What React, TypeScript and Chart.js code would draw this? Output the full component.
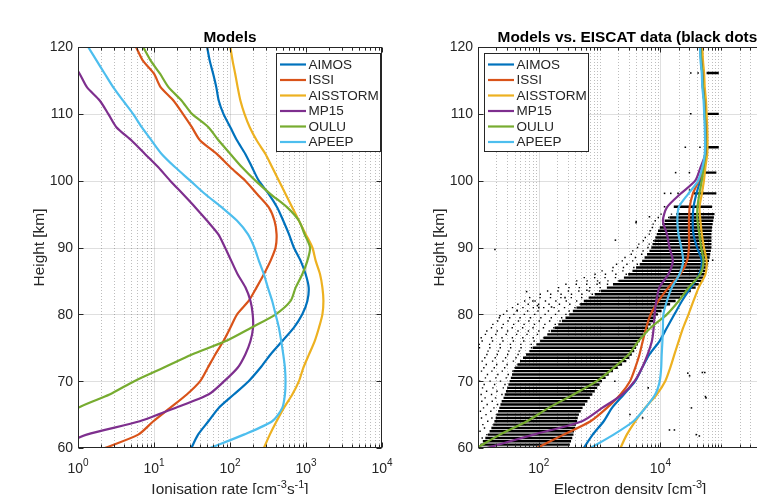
import React, { useEffect, useRef } from 'react';
import { Chart, registerables } from 'chart.js';

Chart.register(...registerables);

const FONT = '"Liberation Sans", Arial, Helvetica, sans-serif';
const TXT = '#262626';

// ---------------- data ----------------
const heights = [60, 62, 64, 66, 68, 70, 72, 74, 76, 78, 80, 82, 84, 86, 88, 90, 92, 94, 96, 98, 100, 102, 104, 106, 108, 110, 112, 114, 116, 118, 120];

const modelNames = ['AIMOS', 'ISSI', 'AISSTORM', 'MP15', 'OULU', 'APEEP'];
const modelColors = ['#0072BD', '#D95319', '#EDB120', '#7E2F8E', '#77AC30', '#4DBEEE'];

// Ionisation rate [cm^-3 s^-1]
const aimosIon = [31, 38, 52, 71, 112, 176, 251, 341, 487, 693, 893, 1042, 1085, 990, 850, 692, 596, 502, 418, 324, 239, 195, 159, 124, 101, 82, 71, 66, 60, 54, 50];
const issiIon = [2.25, 6.2, 9.8, 16.3, 27, 40.5, 51, 64, 82, 101, 124, 176, 223, 279, 341, 398, 410, 385, 324, 227, 159, 101, 67, 40.5, 31.5, 24, 18, 12.2, 10, 7.1, 5.8];
const aisstormIon = [279, 334, 410, 512, 660, 808, 922, 1096, 1302, 1480, 1644, 1695, 1644, 1530, 1342, 1213, 990, 808, 660, 538, 440, 359, 293, 225, 182, 155, 137, 126, 117, 108, 101];
const mp15Ion = [0.5, 1.3, 6.5, 19, 52, 84, 126, 159, 186, 201, 199, 186, 160, 126, 104, 86, 70, 50, 35, 24, 16.3, 11.4, 7.6, 5.07, 3.2, 2.5, 1.93, 1.31, 1.05, 0.8, 0.6];
const ouluIon = [0.3, 0.45, 0.65, 1.0, 2.6, 5.5, 13.3, 31.5, 88, 190, 400, 627, 730, 894, 1042, 1130, 956, 808, 566, 341, 216, 144, 101, 71, 52, 31.5, 23, 15.5, 12, 9, 7.2];
const apeepIon = [55, 152, 359, 487, 528, 538, 528, 502, 472, 440, 398, 359, 315, 279, 240, 209, 172, 124, 78, 47, 30, 19, 12.6, 9.3, 6.9, 5.3, 3.9, 2.9, 2.25, 1.75, 1.36];

// Electron density [cm^-3]
const aimosNe = [550, 770, 1170, 1600, 2500, 3850, 5000, 6600, 9700, 12800, 17000, 22600, 31600, 43700, 48000, 40000, 35000, 34000, 35000, 39000, 45000, 51300, 55000, 55600, 55000, 53700, 52500, 50100, 49000, 46800, 45700];
const issiNe = [93, 257, 710, 1320, 2200, 3160, 3850, 4530, 5130, 5840, 6930, 9300, 13500, 21300, 27400, 29500, 29500, 29500, 30300, 34000, 42600, 51300, 55000, 55600, 55000, 53700, 52500, 50100, 49000, 46800, 45700];
const aisstormNe = [2200, 2800, 3850, 5600, 8700, 12000, 14500, 17000, 20000, 23700, 29000, 35000, 42600, 55000, 57500, 52000, 48000, 45500, 44000, 48000, 52000, 54900, 58900, 59500, 58900, 57500, 56200, 53600, 52400, 50100, 48900];
const mp15Ne = [14, 82, 515, 1100, 2350, 3760, 5000, 6170, 7250, 7760, 8020, 8570, 9600, 13500, 16000, 14100, 12800, 11000, 12800, 21200, 37400, 45700, 55000, 55600, 55000, 53700, 52500, 50100, 49000, 46800, 45700];
const ouluNe = [9.5, 23, 64, 145, 372, 900, 1700, 3000, 4370, 6930, 12800, 20000, 29200, 45200, 51300, 46800, 43700, 40700, 40700, 43700, 47900, 51300, 55000, 55600, 55000, 53700, 52500, 50100, 49000, 46800, 45700];
const apeepNe = [710, 1700, 3600, 5650, 8200, 9750, 10300, 10500, 10800, 11000, 11200, 12800, 15400, 20600, 23700, 22000, 19800, 19000, 20000, 28500, 41700, 49000, 53700, 54300, 53700, 52500, 51300, 48900, 47900, 45700, 44700];

// EISCAT range gates: sparse-fringe start, dense start, dense end
const eiscatHeights = [
  60, 60.5, 61, 61.5, 62, 62.5, 63, 63.5, 64, 64.5, 65, 65.5, 66, 66.5, 67, 67.5, 68, 68.5, 69, 69.5,
  70, 70.5, 71, 71.5, 72, 72.5, 73, 73.5, 74, 74.5, 75, 75.5, 76, 76.5, 77, 77.5, 78, 78.5, 79, 79.5,
  80, 80.5, 81, 81.5, 82, 82.5, 83, 83.5, 84, 84.5, 85, 85.5, 86, 86.5, 87, 87.5, 88, 88.5, 89, 89.5,
  90, 90.5, 91, 91.5, 92, 92.5, 93, 93.5, 94, 94.5, 95, 96.1, 98.1, 101.2, 105, 110, 116.1,
];
const eiscatFringeLow = [
  8, 7.3, 8.8, 7.7, 9.2, 7.1, 8.4, 7.9, 9.5, 7.5, 8.9, 7.2, 8.1, 9.3, 7.6, 8.6, 7.4, 9.1, 7.8, 8.3, 7.0, 8.7, 9.4, 7.5, 8.2, 9.0, 7.7, 8.5, 9.2,
  9.6, 10.3, 10.2, 11.4, 11.0, 12.9, 13.6, 16.2, 17.1, 20.5,
  21.8, 25.6, 29, 36, 44, 57, 69, 103, 136, 206,
  272, 410, 545, 820, 1070, 1620, 1850, 2300, 2550, 3230,
  3420, 4100, 4300, 5100, 5500, 6400, 6600, 7200, 7400, 8000,
  9000, 10000, 16600, 35500, 52500, 55000, 58900, 57500,
];
const eiscatLow = [
  10, 11, 12, 13.2, 14.5, 15.5, 16.6, 17.8, 18.6,
  19.5, 20.4, 21.4, 22.4, 23.4, 24.5, 26.3, 27.5, 28.8, 30.2,
  31.6, 33.1, 34.7, 36.3, 38, 40.7, 44.7, 49, 55, 61.7,
  70.8, 79.4, 91.2, 105, 120, 138, 158, 182, 209, 240,
  275, 316, 363, 417, 479, 550, 661, 832, 1047, 1318,
  1660, 2089, 2512, 2951, 3467, 3981, 4571, 5012, 5495, 6026,
  6607, 7079, 7413, 7943, 8318, 8710, 9120, 9772, 10720, 11750,
  14130, 18200, 16600, 35500, 52500, 55000, 58900, 57500,
];
const eiscatHigh = [
  316, 324, 339, 355, 372, 380, 398, 407, 427,
  437, 457, 490, 525, 575, 631, 692, 759, 832, 912,
  1000, 1096, 1259, 1413, 1660, 1995, 2344, 2754, 3090, 3388,
  3715, 3981, 4266, 4571, 4898, 5248, 5754, 6310, 6918, 7586,
  8318, 9120, 10470, 12020, 14450, 17780, 21380, 26300, 31620, 38020,
  42660, 47860, 51290, 54950, 56890, 58880, 60950, 63100, 64570, 66070,
  67610, 69180, 69180, 69180, 69180, 69180, 69980, 70790, 72440, 74130,
  75860, 77620, 70800, 83200, 83200, 91200, 91200, 91200,
];
const outlierNe = [19, 1820, 3980, 6600, 63, 80, 95, 100, 44, 23, 162, 270, 617, 1000, 53700, 56200, 32400, 14100, 43700, 28200, 6300, 5100, 3160, 1780, 30200, 49000, 55000, 38900, 17000, 72400, 50100, 31600, 41700, 31600, 25700, 44700, 17800, 30000, 11700, 14800, 19500, 11700, 30200, 4000];
const outlierHeight = [89.7, 91.1, 93.7, 94.6, 83.4, 82, 81.3, 81, 80.6, 79.8, 81.1, 82.5, 83.6, 84.7, 71.3, 67.5, 66, 62.7, 61.8, 71.2, 69, 64.5, 65, 70, 70.8, 71.3, 67.7, 62, 62.7, 88.1, 89.2, 116.1, 116.1, 110, 105, 105, 101.2, 101.2, 98.1, 98.1, 98.1, 96.1, 98.6, 93.9];

// ticks
const heightTicks = [60, 70, 80, 90, 100, 110, 120];
const ionTicks = [1, 10, 100, 1000, 10000];
const ionTickExp = ['0', '1', '2', '3', '4'];
const neTicks = [100, 10000, 1000000];
const neTickExp = ['2', '4', '6'];

// ---------------- drawing helpers ----------------
type Part = { t: string; sup?: boolean };

function drawRich(ctx: CanvasRenderingContext2D, parts: Part[], x: number, y: number, size: number, supSize: number, rise: number, align: 'left' | 'center' | 'right', weight = '') {
  const widths = parts.map((p) => {
    ctx.font = `${weight}${p.sup ? supSize : size}px ${FONT}`;
    return ctx.measureText(p.t).width;
  });
  const total = widths.reduce((a, b) => a + b, 0);
  let cx = align === 'left' ? x : align === 'center' ? x - total / 2 : x - total;
  ctx.textAlign = 'left';
  ctx.textBaseline = 'alphabetic';
  parts.forEach((p, i) => {
    ctx.font = `${weight}${p.sup ? supSize : size}px ${FONT}`;
    ctx.fillText(p.t, cx, p.sup ? y - rise : y);
    cx += widths[i];
  });
}

function minorValues(e0: number, e1: number, skip: number[]): number[] {
  const out: number[] = [];
  for (let e = e0; e < e1; e++) {
    for (let m = 1; m <= 9; m++) {
      const v = m * Math.pow(10, e);
      if (!skip.some((s) => Math.abs(s - v) / v < 1e-6)) out.push(v);
    }
  }
  return out;
}

type PanelCfg = {
  title: string;
  xTitle: Part[];
  xMajor: number[];
  xExp: string[];
  xMinor: number[];
  legend: 'right' | 'left';
};

function makePlugin(cfg: PanelCfg) {
  return {
    id: 'matlabAxes',
    beforeDatasetsDraw(chart: any) {
      const { ctx, chartArea: a, scales } = chart;
      const xs = scales.x, ys = scales.y;
      ctx.save();
      ctx.beginPath();
      ctx.rect(a.left, a.top, a.right - a.left, a.bottom - a.top);
      ctx.clip();
      ctx.lineWidth = 1;
      ctx.strokeStyle = 'rgba(38,38,38,0.3)';
      ctx.setLineDash([1, 2]);
      for (const v of cfg.xMinor) {
        const px = Math.round(xs.getPixelForValue(v)) + 0.5;
        ctx.beginPath(); ctx.moveTo(px, a.top); ctx.lineTo(px, a.bottom); ctx.stroke();
      }
      ctx.setLineDash([]);
      ctx.strokeStyle = 'rgba(38,38,38,0.15)';
      for (const v of cfg.xMajor) {
        const px = Math.round(xs.getPixelForValue(v)) + 0.5;
        ctx.beginPath(); ctx.moveTo(px, a.top); ctx.lineTo(px, a.bottom); ctx.stroke();
      }
      for (const v of heightTicks) {
        const py = Math.round(ys.getPixelForValue(v)) + 0.5;
        ctx.beginPath(); ctx.moveTo(a.left, py); ctx.lineTo(a.right, py); ctx.stroke();
      }
      ctx.restore();
    },
    afterDatasetsDraw(chart: any) {
      const { ctx, chartArea: a, scales } = chart;
      const xs = scales.x, ys = scales.y;
      ctx.save();
      ctx.strokeStyle = TXT;
      ctx.lineWidth = 1;
      const L = Math.round(a.left) + 0.5, R = Math.round(a.right) - 0.5;
      const T = Math.round(a.top) + 0.5, B = Math.round(a.bottom) - 0.5;
      ctx.strokeRect(L, T, R - L, B - T);
      const tick = (x1: number, y1: number, x2: number, y2: number) => {
        ctx.beginPath(); ctx.moveTo(x1, y1); ctx.lineTo(x2, y2); ctx.stroke();
      };
      for (const v of cfg.xMajor) {
        const px = Math.round(xs.getPixelForValue(v)) + 0.5;
        tick(px, B, px, B - 5); tick(px, T, px, T + 5);
      }
      for (const v of cfg.xMinor) {
        const px = Math.round(xs.getPixelForValue(v)) + 0.5;
        tick(px, B, px, B - 3); tick(px, T, px, T + 3);
      }
      for (const v of heightTicks) {
        const py = Math.round(ys.getPixelForValue(v)) + 0.5;
        tick(L, py, L + 5, py); tick(R, py, R - 5, py);
      }
      // legend
      const bw = 104, bh = 98;
      const bx = cfg.legend === 'right' ? Math.round(a.right) - 2 - bw : Math.round(a.left) + 6;
      const by = Math.round(a.top) + 6;
      ctx.fillStyle = '#ffffff';
      ctx.fillRect(bx + 0.5, by + 0.5, bw, bh);
      ctx.strokeStyle = TXT;
      ctx.strokeRect(bx + 0.5, by + 0.5, bw, bh);
      ctx.font = `13.5px ${FONT}`;
      ctx.textAlign = 'left';
      ctx.textBaseline = 'middle';
      modelNames.forEach((name, i) => {
        const cy = by + 11.5 + i * 15.5;
        ctx.strokeStyle = modelColors[i];
        ctx.lineWidth = 2.2;
        tick(bx + 4, cy, bx + 30, cy);
        ctx.fillStyle = TXT;
        ctx.fillText(name, bx + 32.5, cy + 0.5);
      });
      ctx.restore();
    },
    afterDraw(chart: any) {
      const { ctx, chartArea: a, scales } = chart;
      const xs = scales.x, ys = scales.y;
      ctx.save();
      ctx.fillStyle = TXT;
      ctx.font = `14px ${FONT}`;
      ctx.textAlign = 'right';
      ctx.textBaseline = 'middle';
      for (const v of heightTicks) {
        ctx.fillText(String(v), a.left - 5, ys.getPixelForValue(v) + 0.5);
      }
      cfg.xMajor.forEach((v, i) => {
        drawRich(ctx, [{ t: '10' }, { t: cfg.xExp[i], sup: true }], xs.getPixelForValue(v), 472.5, 14, 10, 7, 'center');
      });
      drawRich(ctx, cfg.xTitle, (a.left + a.right) / 2, 494, 15.4, 11, 6, 'center');
      ctx.save();
      ctx.translate(a.left - 38.5, (a.top + a.bottom) / 2);
      ctx.rotate(-Math.PI / 2);
      ctx.font = `15.4px ${FONT}`;
      ctx.textAlign = 'center';
      ctx.textBaseline = 'middle';
      ctx.fillText('Height [km]', 0, 0);
      ctx.restore();
      ctx.fillStyle = '#000';
      ctx.font = `bold 15.4px ${FONT}`;
      ctx.textAlign = 'center';
      ctx.textBaseline = 'alphabetic';
      ctx.fillText(cfg.title, (a.left + a.right) / 2, 42);
      ctx.restore();
    },
  };
}

function modelDatasets(series: number[][]) {
  return series.map((vals, i) => ({
    label: modelNames[i],
    data: heights.map((h, j) => ({ x: vals[j], y: h })),
    showLine: true,
    borderColor: modelColors[i],
    backgroundColor: modelColors[i],
    borderWidth: 2.2,
    pointRadius: 0,
    tension: 0.25,
    fill: false,
    order: 6 - i,
  }));
}

function baseOptions(xMin: number, xMax: number) {
  return {
    responsive: false,
    animation: false as const,
    devicePixelRatio: 1,
    layout: { padding: { left: 78, top: 47, right: 18, bottom: 46 } },
    scales: {
      x: { type: 'logarithmic' as const, min: xMin, max: xMax, display: false },
      y: { type: 'linear' as const, min: 60, max: 120, display: false },
    },
    plugins: { legend: { display: false }, tooltip: { enabled: false } },
    events: [] as any[],
  };
}

export default function App() {
  const leftRef = useRef<HTMLCanvasElement>(null);
  const rightRef = useRef<HTMLCanvasElement>(null);

  useEffect(() => {
    document.body.style.margin = '0';
    const left = new Chart(leftRef.current as HTMLCanvasElement, {
      type: 'scatter',
      data: { datasets: modelDatasets([aimosIon, issiIon, aisstormIon, mp15Ion, ouluIon, apeepIon]) as any },
      options: baseOptions(1, 10000) as any,
      plugins: [makePlugin({
        title: 'Models',
        xTitle: [{ t: 'Ionisation rate [cm' }, { t: '-3', sup: true }, { t: 's' }, { t: '-1', sup: true }, { t: ']' }],
        xMajor: ionTicks,
        xExp: ionTickExp,
        xMinor: minorValues(0, 4, [1, 10, 100, 1000, 10000]),
        legend: 'right',
      })],
    });

    const core: any[] = [];
    const fringe: any[] = [];
    eiscatHeights.forEach((h, i) => {
      core.push({ x: eiscatLow[i], y: h }, { x: eiscatHigh[i], y: h }, { x: eiscatHigh[i], y: null });
      if (eiscatFringeLow[i] < eiscatLow[i]) {
        fringe.push({ x: eiscatFringeLow[i], y: h }, { x: eiscatLow[i], y: h }, { x: eiscatLow[i], y: null });
      }
    });
    const eiscatSets = [
      { label: 'EISCAT', data: core, showLine: true, borderColor: '#000', borderWidth: 2.4, pointRadius: 0, tension: 0, spanGaps: false, order: 20 },
      { label: 'EISCAT sparse', data: fringe, showLine: true, borderColor: '#000', borderWidth: 1.4, borderDash: [1.4, 9], pointRadius: 0, tension: 0, spanGaps: false, order: 21 },
      { label: 'EISCAT outliers', data: outlierNe.map((v, i) => ({ x: v, y: outlierHeight[i] })), showLine: false, pointStyle: 'rect', pointRadius: 1.1, borderWidth: 0, backgroundColor: '#000', order: 22 },
    ];
    const right = new Chart(rightRef.current as HTMLCanvasElement, {
      type: 'scatter',
      data: { datasets: [...eiscatSets, ...modelDatasets([aimosNe, issiNe, aisstormNe, mp15Ne, ouluNe, apeepNe])] as any },
      options: baseOptions(10, 1000000) as any,
      plugins: [makePlugin({
        title: 'Models vs. EISCAT data (black dots)',
        xTitle: [{ t: 'Electron density [cm' }, { t: '-3', sup: true }, { t: ']' }],
        xMajor: neTicks,
        xExp: neTickExp,
        xMinor: minorValues(1, 6, [100, 10000, 1000000]),
        legend: 'left',
      })],
    });
    return () => {
      left.destroy();
      right.destroy();
    };
  }, []);

  return (
    <div style={{ position: 'fixed', left: 0, top: 0, width: 757, height: 494, overflow: 'hidden', background: '#fff' }}>
      <canvas ref={leftRef} width={400} height={494} style={{ position: 'absolute', left: 0, top: 0, width: 400, height: 494 }} />
      <canvas ref={rightRef} width={400} height={494} style={{ position: 'absolute', left: 400, top: 0, width: 400, height: 494 }} />
    </div>
  );
}
